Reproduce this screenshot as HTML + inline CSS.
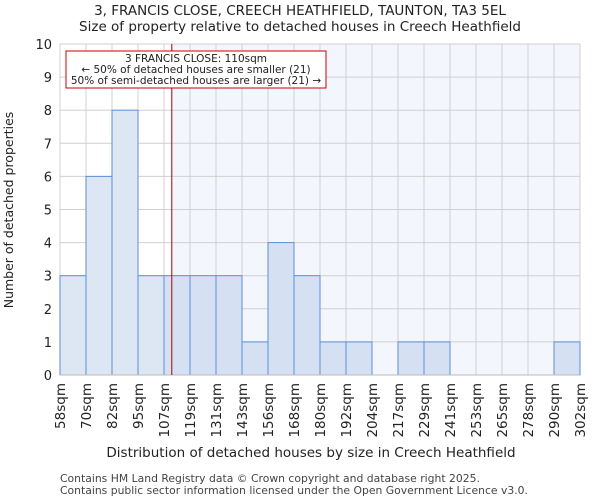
<!DOCTYPE html>
<html><head><meta charset="utf-8"><style>
body{margin:0;background:#fff;font-family:"DejaVu Sans","Liberation Sans",sans-serif;}
</style></head><body>
<svg width="600" height="500" xmlns="http://www.w3.org/2000/svg" font-family="DejaVu Sans, Liberation Sans, sans-serif">
<text x="300" y="15" text-anchor="middle" font-size="13.5" fill="#222">3, FRANCIS CLOSE, CREECH HEATHFIELD, TAUNTON, TA3 5EL</text>
<text x="300" y="31" text-anchor="middle" font-size="13.5" fill="#222">Size of property relative to detached houses in Creech Heathfield</text>
<rect x="172" y="44" width="408" height="331" fill="#f3f6fd"/>
<g id="grid"></g>
<g id="bars"></g>
<g id="axes"></g>
<text x="311" y="457" text-anchor="middle" font-size="13.5" fill="#222">Distribution of detached houses by size in Creech Heathfield</text>
<text transform="translate(13,210) rotate(-90)" text-anchor="middle" font-size="12.5" fill="#222">Number of detached properties</text>
<g>
<rect x="66" y="51" width="260" height="37" fill="#fff" stroke="#c00" stroke-width="1"/>
<text x="196" y="62" text-anchor="middle" font-size="10.5" fill="#222">3 FRANCIS CLOSE: 110sqm</text>
<text x="196" y="73" text-anchor="middle" font-size="10.5" fill="#222">← 50% of detached houses are smaller (21)</text>
<text x="196" y="84" text-anchor="middle" font-size="10.5" fill="#222">50% of semi-detached houses are larger (21) →</text>
</g>
<text x="60" y="482" font-size="10.8" fill="#444">Contains HM Land Registry data © Crown copyright and database right 2025.</text>
<text x="60" y="494" font-size="10.8" fill="#444">Contains public sector information licensed under the Open Government Licence v3.0.</text>
</svg>
<script>
const categories=["58sqm","70sqm","82sqm","95sqm","107sqm","119sqm","131sqm","143sqm","156sqm","168sqm","180sqm","192sqm","204sqm","217sqm","229sqm","241sqm","253sqm","265sqm","278sqm","290sqm","302sqm"];
const counts=[3,6,8,3,3,3,3,1,4,3,1,1,0,1,1,0,0,0,0,1];
const yTicks=[0,1,2,3,4,5,6,7,8,9,10];
const markerIndex=4.3;
const NS="http://www.w3.org/2000/svg";
const x0=60,x1=580,yb=375,yt=44,ymax=10;
const bw=(x1-x0)/counts.length;
const xs=i=>x0+i*bw;
const ys=v=>yb-(yb-yt)*v/ymax;
function mk(t,a,p){const e=document.createElementNS(NS,t);for(const k in a)e.setAttribute(k,a[k]);p.appendChild(e);return e;}
const grid=document.getElementById('grid'),bars=document.getElementById('bars'),axes=document.getElementById('axes');
yTicks.forEach(v=>{
 const l=mk('line',{x1:x0,x2:x1,y1:ys(v),y2:ys(v),stroke:'#d0d0d0','stroke-width':1},grid);
 
 
 const t=mk('text',{x:x0-8,y:ys(v)+5,'text-anchor':'end','font-size':13,fill:'#222'},axes);
 t.textContent=v;
 
 
});
categories.forEach((c,i)=>{
 const l=mk('line',{x1:xs(i),x2:xs(i),y1:yt,y2:yb,stroke:'#d0d0d0','stroke-width':1},grid);
 
 
 const t=mk('text',{transform:`translate(${xs(i)+5},${yb+8}) rotate(-90)`,'text-anchor':'end','font-size':13.5,fill:'#222'},axes);
 t.textContent=c;
 
 
});
counts.forEach((v,i)=>{
 if(v<=0)return;
 const r=mk('rect',{x:xs(i),y:ys(v),width:bw,height:yb-ys(v),fill:i<4?'#dde6f3':'#d5e1f3',stroke:'#5b8fd8','stroke-width':1},bars);
 
 
});
const ax=mk('line',{x1:x0,x2:x1,y1:yb,y2:yb,stroke:'#bbb','stroke-width':1},axes);


const mx=x0+markerIndex*bw;
const m=mk('line',{x1:mx,x2:mx,y1:yt,y2:yb,stroke:'#a00','stroke-width':1},axes);


</script>
</body></html>
